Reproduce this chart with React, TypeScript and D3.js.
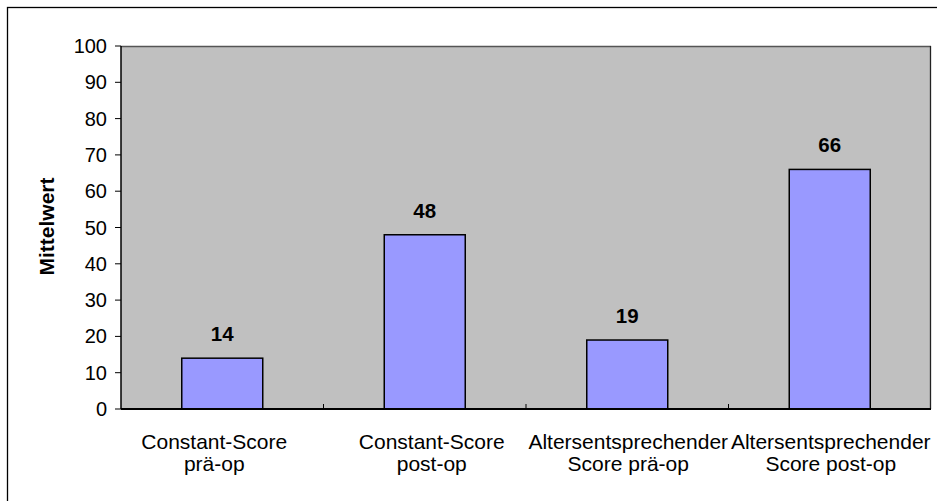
import React from "react";
import * as d3 from "d3";

const categories: string[][] = [
  ["Constant-Score", "prä-op"],
  ["Constant-Score", "post-op"],
  ["Altersentsprechender", "Score prä-op"],
  ["Altersentsprechender", "Score post-op"],
];
const values: number[] = [14, 48, 19, 66];
const yTicks: number[] = [0, 10, 20, 30, 40, 50, 60, 70, 80, 90, 100];
const yTitle = "Mittelwert";

// small horizontal nudges for the wrapped category labels
const labelShift: number[] = [-8, 7, 1, 1];

const W = 937;
const H = 501;
const plot = { left: 121, top: 46, right: 931, bottom: 409 };
const FONT = "'Liberation Sans', Arial, sans-serif";

export default function App() {
  const x = d3
    .scaleBand<number>()
    .domain(values.map((_, i) => i))
    .range([plot.left, plot.right])
    .paddingInner(0)
    .paddingOuter(0);
  const y = d3.scaleLinear().domain([0, 100]).range([plot.bottom, plot.top]);
  const bw = x.bandwidth() * 0.4;
  const bounds = d3.range(values.length + 1).map((i) => plot.left + i * x.bandwidth());

  return (
    <svg
      width={W}
      height={H}
      style={{ position: "absolute", left: 0, top: 0, background: "#fff" }}
      fontFamily={FONT}
    >
      <rect x={0} y={0} width={W} height={H} fill="#fff" />
      {/* chart frame */}
      <rect x={7.5} y={7.5} width={W + 20} height={H + 20} fill="none" stroke="#000" strokeWidth={1.3} />

      {/* plot area */}
      <rect
        x={plot.left}
        y={plot.top}
        width={plot.right - plot.left}
        height={plot.bottom - plot.top}
        fill="#C0C0C0"
      />
      <line x1={plot.left} x2={plot.right} y1={plot.top + 0.5} y2={plot.top + 0.5} stroke="#555" strokeWidth={1.3} />
      <line x1={plot.right - 0.5} x2={plot.right - 0.5} y1={plot.top} y2={plot.bottom} stroke="#222" strokeWidth={1.3} />

      {/* bars */}
      {values.map((v, i) => {
        const cx = (x(i) as number) + x.bandwidth() / 2;
        return (
          <g key={i}>
            <rect
              x={cx - bw / 2}
              y={y(v)}
              width={bw}
              height={y(0) - y(v)}
              fill="#9999FF"
              stroke="#000"
              strokeWidth={1.5}
            />
            <text
              x={cx}
              y={y(v) - 17}
              textAnchor="middle"
              fontSize={20.5}
              fontWeight="bold"
              fill="#000"
            >
              {v}
            </text>
          </g>
        );
      })}

      {/* y axis */}
      <line x1={plot.left} x2={plot.left} y1={plot.top} y2={plot.bottom} stroke="#000" strokeWidth={1.5} />
      {yTicks.map((t) => (
        <g key={t}>
          <line x1={plot.left - 6} x2={plot.left} y1={y(t)} y2={y(t)} stroke="#000" strokeWidth={1} />
          <text x={107} y={y(t)} dy="0.35em" textAnchor="end" fontSize={20} fill="#000">
            {t}
          </text>
        </g>
      ))}
      <text
        transform={`translate(54, ${(plot.top + plot.bottom) / 2 - 1}) rotate(-90)`}
        textAnchor="middle"
        fontSize={21}
        fontWeight="bold"
        fill="#000"
      >
        {yTitle}
      </text>

      {/* x axis */}
      <line x1={plot.left} x2={plot.right} y1={plot.bottom} y2={plot.bottom} stroke="#000" strokeWidth={2} />
      {bounds.slice(1, -1).map((bx, i) => (
        <line key={i} x1={bx} x2={bx} y1={plot.bottom} y2={plot.bottom - 5} stroke="#000" strokeWidth={1} />
      ))}
      {categories.map((lines, i) => {
        const cx = (x(i) as number) + x.bandwidth() / 2 + labelShift[i];
        return (
          <text key={i} x={cx} y={449} textAnchor="middle" fontSize={21} fill="#000">
            {lines.map((l, j) => (
              <tspan key={j} x={cx} dy={j === 0 ? 0 : 22}>
                {l}
              </tspan>
            ))}
          </text>
        );
      })}
    </svg>
  );
}
